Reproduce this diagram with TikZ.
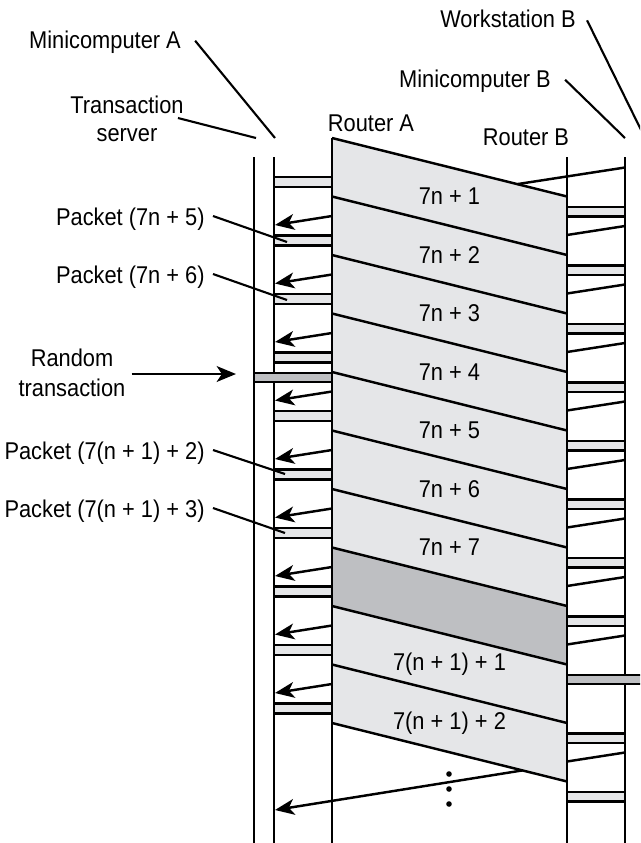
\documentclass[tikz,border=0pt]{standalone}
\usepackage{fontspec}
\setmainfont[FakeStretch=0.9]{Liberation Sans}
\usetikzlibrary{arrows.meta, calc}
\definecolor{pktgray}{RGB}{229,230,232}
\definecolor{randgray}{RGB}{190,191,194}

\begin{document}
\begin{tikzpicture}[
    x=0.02cm, y=-0.02cm,
    lane/.style={line width=1.7pt},
    hop/.style={line width=1.4pt},
    bar/.style={draw, line width=1.4pt, fill=pktgray},
    randbar/.style={draw, line width=1.4pt, fill=randgray},
    ack/.style={line width=1.4pt, -{Stealth[length=11pt, width=9pt, inset=3pt]}},
    tag/.style={font=\fontsize{13.8}{16}\selectfont, inner sep=0pt, align=center},
    pointer/.style={line width=1.2pt}
  ]

  \clip (0,0) rectangle (640,843);

  % Packets travelling from router A to router B
  \fill[pktgray] (332,138) -- (567,196.5) -- (567,781.5) -- (332,723) -- cycle;
  \fill[randgray] (332,547.5) -- (567,606) -- (567,664.5) -- (332,606) -- cycle;
  \foreach \k in {0,...,10}
    \draw[hop] (332,{138+58.5*\k}) -- (567,{196.5+58.5*\k});

  % Time lines
  \draw[lane] (254,157) -- (254,843);
  \draw[lane] (274,157) -- (274,843);
  \draw[lane] (332,138) -- (332,843);
  \draw[lane] (567,157) -- (567,843);
  \draw[lane] (625,157) -- (625,843);

  % Transactions on the left
  \foreach \k in {0,...,9}
    \draw[bar] (274,{177+58.5*\k}) rectangle (332,{187+58.5*\k});
  \draw[randbar] (254,373) rectangle (332,382);
  \foreach \k in {0,...,8}
    \draw[ack] (332,{216+58.5*\k}) -- (275,{225+58.5*\k});
  \draw[ack] (522.4,770.4) -- (275,810);

  % Transactions on the right
  \foreach \k in {0,...,7,9,10}
    \draw[bar] (567,{207+58.5*\k}) rectangle (625,{216.5+58.5*\k});
  \draw[randbar] (567,675) rectangle (660,684);
  \draw[hop] (517.5,184.1) -- (625,167.5);
  \foreach \k in {0,...,7,9}
    \draw[hop] (567,{235+58.5*\k}) -- (625,{226+58.5*\k});

  % Packet numbers
  \foreach \k/\txt in {0/7n + 1, 1/7n + 2, 2/7n + 3, 3/7n + 4, 4/7n + 5,
      5/7n + 6, 6/7n + 7, 8/7(n + 1) + 1, 9/7(n + 1) + 2}
    \node[tag] (band\k) at (449.5,{196.5+58.5*\k}) {\txt};
  \foreach \yy in {774,789,804}
    \fill (449,\yy) circle (2.8);

  % Pointer ends
  \coordinate (srvLane) at (256,138);
  \coordinate (maLane) at (275,138);
  \coordinate (mbLane) at (625,138);
  \coordinate (wsLane) at (645,138);
  \coordinate (bar5) at (287,242);
  \coordinate (bar6) at (287,300);
  \coordinate (bar12) at (285,474);
  \coordinate (bar13) at (285,533);
  \coordinate (randBar) at (236,374);

  % Labels
  \node[tag, anchor=base] (minA) at (105,48) {Minicomputer A};
  \node[tag] (server) at (127,119) {Transaction\\server};
  \node[tag, anchor=base] (routerA) at (371,131) {Router A};
  \node[tag, anchor=base] (routerB) at (526,145) {Router B};
  \node[tag, anchor=base] (minB) at (475,87) {Minicomputer B};
  \node[tag, anchor=base] (wsB) at (508,27) {Workstation B};
  \node[tag, anchor=east] (pk5) at (205,219) {Packet (7n + 5)};
  \node[tag, anchor=east] (pk6) at (205,277) {Packet (7n + 6)};
  \node[tag] (random) at (72,373) {Random\\[1pt]transaction};
  \node[tag, anchor=east] (pk12) at (205,453) {Packet (7(n + 1) + 2)};
  \node[tag, anchor=east] (pk13) at (205,511) {Packet (7(n + 1) + 3)};

  \draw[pointer] ($(minA.east)+(14,-1)$) -- (maLane);
  \draw[pointer] ($(server.east)+(-6,-1)$) -- (srvLane);
  \draw[pointer] ($(minB.east)+(14,-1)$) -- (mbLane);
  \draw[pointer] ($(wsB.east)+(11,2)$) -- (wsLane);
  \draw[pointer] ($(pk5.east)+(8,-3)$) -- (bar5);
  \draw[pointer] ($(pk6.east)+(8,-3)$) -- (bar6);
  \draw[pointer] ($(pk12.east)+(8,-3)$) -- (bar12);
  \draw[pointer] ($(pk13.east)+(8,-3)$) -- (bar13);
  \draw[ack] ($(random.east)+(6,1)$) -- (randBar);

\end{tikzpicture}
\end{document}
